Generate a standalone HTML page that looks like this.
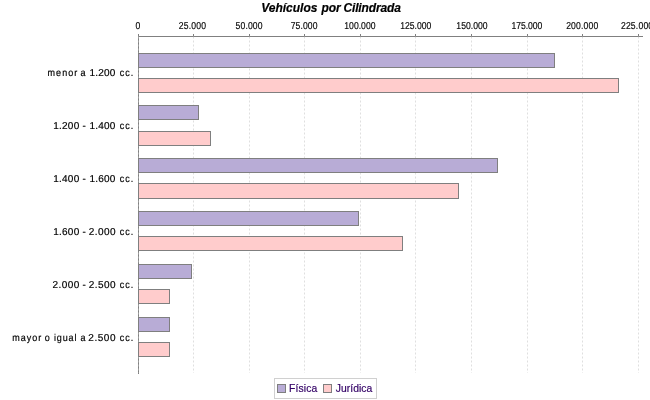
<!DOCTYPE html>
<html><head><meta charset="utf-8"><title>Vehículos por Cilindrada</title>
<style>
html,body{margin:0;padding:0;background:#fff;}
body{width:650px;height:400px;overflow:hidden;position:relative;font-family:"Liberation Sans",sans-serif;}
svg{position:absolute;left:0;top:0;display:block;will-change:transform;}
text{font-family:"Liberation Sans",sans-serif;}
.t{font-size:10px;fill:#000;stroke:#000;stroke-width:0.15px;text-rendering:geometricPrecision;}
.d{font-size:10px;fill:#000;stroke:#000;stroke-width:0.18px;text-rendering:geometricPrecision;}
.l{font-size:11px;fill:#330066;stroke:#330066;stroke-width:0.2px;}
.h{font-size:12px;font-weight:bold;font-style:italic;fill:#000;letter-spacing:-0.02px;stroke:#000;stroke-width:0.2px;}
</style></head><body>
<svg width="650" height="400" viewBox="0 0 650 400">
<rect x="0" y="0" width="650" height="400" fill="#fff"/>
<text class="h" x="261.3" y="11.5">Vehículos<tspan dx="0.7"> por</tspan><tspan dx="-0.35" style="letter-spacing:-0.15px"> Cilindrada</tspan></text>
<g shape-rendering="crispEdges" stroke="#808080" stroke-width="1">
<line x1="138.5" y1="36" x2="138.5" y2="374"/>
<line x1="138" y1="36.5" x2="643" y2="36.5"/>
<line x1="138.5" y1="34" x2="138.5" y2="36"/>
<line x1="193.5" y1="34" x2="193.5" y2="36"/>
<line x1="249.5" y1="34" x2="249.5" y2="36"/>
<line x1="304.5" y1="34" x2="304.5" y2="36"/>
<line x1="360.5" y1="34" x2="360.5" y2="36"/>
<line x1="415.5" y1="34" x2="415.5" y2="36"/>
<line x1="471.5" y1="34" x2="471.5" y2="36"/>
<line x1="527.5" y1="34" x2="527.5" y2="36"/>
<line x1="582.5" y1="34" x2="582.5" y2="36"/>
<line x1="638.5" y1="34" x2="638.5" y2="36"/>
</g>
<g stroke="#c0c0c0" stroke-opacity="0.5" stroke-width="1" stroke-dasharray="2,2">
<line x1="138.5" y1="36.5" x2="138.5" y2="373"/>
<line x1="193.5" y1="36.5" x2="193.5" y2="373"/>
<line x1="249.5" y1="36.5" x2="249.5" y2="373"/>
<line x1="304.5" y1="36.5" x2="304.5" y2="373"/>
<line x1="360.5" y1="36.5" x2="360.5" y2="373"/>
<line x1="415.5" y1="36.5" x2="415.5" y2="373"/>
<line x1="471.5" y1="36.5" x2="471.5" y2="373"/>
<line x1="527.5" y1="36.5" x2="527.5" y2="373"/>
<line x1="582.5" y1="36.5" x2="582.5" y2="373"/>
<line x1="638.5" y1="36.5" x2="638.5" y2="373"/>
</g>
<g shape-rendering="crispEdges" stroke="#7f7f7f" stroke-width="1">
<rect x="138.5" y="53.5" width="416" height="14" fill="#b8acd6"/>
<rect x="138.5" y="78.5" width="480" height="14" fill="#ffcccc"/>
<rect x="138.5" y="105.5" width="60" height="14" fill="#b8acd6"/>
<rect x="138.5" y="131.5" width="72" height="14" fill="#ffcccc"/>
<rect x="138.5" y="158.5" width="359" height="14" fill="#b8acd6"/>
<rect x="138.5" y="183.5" width="320" height="15" fill="#ffcccc"/>
<rect x="138.5" y="211.5" width="220" height="14" fill="#b8acd6"/>
<rect x="138.5" y="236.5" width="264" height="14" fill="#ffcccc"/>
<rect x="138.5" y="264.5" width="53" height="14" fill="#b8acd6"/>
<rect x="138.5" y="289.5" width="31" height="14" fill="#ffcccc"/>
<rect x="138.5" y="317.5" width="31" height="14" fill="#b8acd6"/>
<rect x="138.5" y="342.5" width="31" height="14" fill="#ffcccc"/>
</g>
<g transform="scale(0.86,1)">
<text class="t" x="157.61" y="29">0</text>
<text class="t" x="207.97" y="29" style="letter-spacing:0.18px">25.000</text>
<text class="t" x="273.98" y="29" style="letter-spacing:0.14px">50.000</text>
<text class="t" x="338.06" y="29" style="letter-spacing:0.10px">75.000</text>
<text class="t" x="400.35" y="29" style="letter-spacing:0.02px">100.000</text>
<text class="t" x="465.52" y="29" style="letter-spacing:-0.04px">125.000</text>
<text class="t" x="530.63" y="29" style="letter-spacing:0.04px">150.000</text>
<text class="t" x="594.71" y="29" style="letter-spacing:-0.06px">175.000</text>
<text class="t" x="658.30" y="29" style="letter-spacing:0.20px">200.000</text>
<text class="t" x="722.00" y="29" style="letter-spacing:0.22px">225.000</text>
</g>
<text class="d" transform="scale(0.90,1)" x="52.86" y="76" style="letter-spacing:1.17px">menor</text>
<text class="d" transform="scale(0.90,1)" x="89.48" y="76">a</text>
<text class="d" x="89.55" y="76" style="letter-spacing:0.19px">1.200</text>
<text class="d" transform="scale(0.90,1)" x="133.06" y="76" style="letter-spacing:1.17px">cc.</text>
<text class="d" x="53.13" y="129" style="letter-spacing:0.27px">1.200</text>
<text class="d" x="82.55" y="129">-</text>
<text class="d" x="89.55" y="129" style="letter-spacing:0.19px">1.400</text>
<text class="d" transform="scale(0.90,1)" x="133.06" y="129" style="letter-spacing:1.17px">cc.</text>
<text class="d" x="53.13" y="182" style="letter-spacing:0.27px">1.400</text>
<text class="d" x="82.55" y="182">-</text>
<text class="d" x="89.55" y="182" style="letter-spacing:0.19px">1.600</text>
<text class="d" transform="scale(0.90,1)" x="133.06" y="182" style="letter-spacing:1.17px">cc.</text>
<text class="d" x="53.13" y="235" style="letter-spacing:0.27px">1.600</text>
<text class="d" x="82.55" y="235">-</text>
<text class="d" x="88.76" y="235" style="letter-spacing:0.45px">2.000</text>
<text class="d" transform="scale(0.90,1)" x="133.06" y="235" style="letter-spacing:1.17px">cc.</text>
<text class="d" x="52.55" y="288" style="letter-spacing:0.42px">2.000</text>
<text class="d" x="82.55" y="288">-</text>
<text class="d" x="88.76" y="288" style="letter-spacing:0.45px">2.500</text>
<text class="d" transform="scale(0.90,1)" x="133.06" y="288" style="letter-spacing:1.17px">cc.</text>
<text class="d" transform="scale(0.90,1)" x="13.69" y="341" style="letter-spacing:1.08px">mayor</text>
<text class="d" transform="scale(0.90,1)" x="49.74" y="341">o</text>
<text class="d" transform="scale(0.90,1)" x="60.00" y="341" style="letter-spacing:0.96px">igual</text>
<text class="d" transform="scale(0.90,1)" x="89.48" y="341">a</text>
<text class="d" x="88.26" y="341" style="letter-spacing:0.57px">2.500</text>
<text class="d" transform="scale(0.90,1)" x="133.06" y="341" style="letter-spacing:1.17px">cc.</text>
<g shape-rendering="crispEdges">
<rect x="274.5" y="378.5" width="102" height="20" fill="#fff" stroke="#d0d0d0"/>
<rect x="277.5" y="384.5" width="8" height="8" fill="#b8acd6" stroke="#7f7f7f"/>
<rect x="323.5" y="384.5" width="8" height="8" fill="#ffcccc" stroke="#7f7f7f"/>
</g>
<text class="l" transform="scale(0.94,1)" x="307.55" y="392" style="letter-spacing:0.12px">Física</text>
<text class="l" transform="scale(0.94,1)" x="357.28" y="392" style="letter-spacing:0.03px">Jurídica</text>
</svg>
</body></html>
